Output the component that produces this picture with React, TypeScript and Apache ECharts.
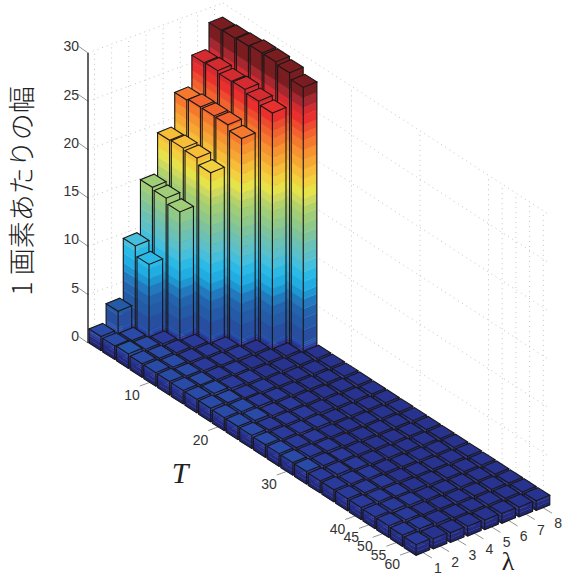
import React, { useEffect, useRef } from "react";
import * as echarts from "echarts";

const zTicks = [0, 5, 10, 15, 20, 25, 30];
const tTickLabels = ["10", "20", "30", "40", "45", "50", "55", "60"];
const tTickRows = [5, 10, 15, 20, 21, 22, 23, 24];
const lambdaTicks = [1, 2, 3, 4, 5, 6, 7, 8];

// rows = T index (1..24), columns = lambda (1..8)
const heights: number[][] = [
  [1.45, 3.4, 9.5, 14.9, 19.1, 22.6, 25.8, 28.5],
  [1.4, 1.3, 8.5, 14.7, 19.2, 22.8, 25.9, 28.6],
  [1.5, 1.3, 1.2, 14.2, 19.1, 22.8, 25.7, 28.7],
  [1.4, 1.3, 1.2, 1.1, 18.5, 22.8, 25.8, 28.9],
  [1.4, 1.3, 1.2, 1.1, 1.1, 22.3, 25.5, 28.9],
  [1.4, 1.3, 1.2, 1.1, 1.1, 1.05, 25.2, 28.7],
  [1.4, 1.3, 1.2, 1.1, 1.05, 1.05, 1.0, 28.1],
  [1.4, 1.35, 1.2, 1.1, 1.05, 1.05, 1.0, 1.0],
  [1.4, 1.3, 1.15, 1.1, 1.05, 1.0, 1.0, 1.0],
  [1.35, 1.3, 1.2, 1.1, 1.05, 1.0, 1.0, 1.0],
  [1.35, 1.3, 1.15, 1.1, 1.05, 1.0, 1.0, 1.0],
  [1.35, 1.25, 1.15, 1.1, 1.05, 1.0, 1.0, 1.0],
  [1.3, 1.25, 1.15, 1.1, 1.0, 1.0, 1.0, 1.0],
  [1.3, 1.25, 1.15, 1.05, 1.0, 1.0, 1.0, 1.0],
  [1.3, 1.25, 1.15, 1.05, 1.0, 1.0, 1.0, 1.0],
  [1.3, 1.25, 1.1, 1.05, 1.0, 1.0, 1.0, 1.0],
  [1.25, 1.25, 1.1, 1.05, 1.0, 1.0, 1.0, 1.0],
  [1.25, 1.2, 1.1, 1.05, 1.0, 1.0, 1.0, 1.0],
  [1.25, 1.2, 1.1, 1.05, 1.0, 1.0, 1.0, 1.0],
  [1.25, 1.2, 1.1, 1.05, 1.0, 1.0, 1.0, 1.0],
  [1.2, 1.2, 1.1, 1.0, 1.0, 1.0, 1.0, 1.0],
  [1.2, 1.15, 1.05, 1.0, 1.0, 1.0, 1.0, 1.0],
  [1.15, 1.15, 1.05, 1.0, 1.0, 1.0, 1.0, 1.0],
  [1.1, 1.05, 1.0, 1.0, 1.0, 1.0, 1.0, 1.0],
];

// colour bands: upper z limit and colour
const bandTops = [0.4, 0.8, 1.05, 1.25, 1.45, 1.7, 3, 4.2, 5.2, 6.2, 7, 8, 9, 10, 11, 12, 13, 14, 15, 15.8, 16.6, 17.6, 18.6, 19.6, 20.6, 21.6, 22.6, 23.4, 24.2, 25.2, 26, 27, 31];
const bandColors = ["#1f2670", "#242b80", "#27338f", "#2a3a9a", "#2a4aa8", "#2556ab", "#284f9f", "#245aa6", "#2464af", "#2379bd", "#1e96d2", "#22ade2", "#2bb9e6", "#45bfdb", "#5cc0c9", "#6bc1b3", "#7cc39e", "#8fc98a", "#a0cd78", "#b4d26a", "#cdd95f", "#e6e34a", "#f2d13f", "#f5bd38", "#f6a733", "#f6922f", "#f4792e", "#f2622e", "#ee4a2e", "#e9302e", "#d42b30", "#a5272f", "#7a1d20"];

const barData: number[][] = [];
heights.forEach((line, i) => {
  for (let j = line.length - 1; j >= 0; j--) barData.push([i + 1, j + 1, line[j]]);
});

const proj = {
  ox: 89, oy: 343, rx: 13.7, ry: 8.9, cx: 17.15, cy: -6.4, zs: 9.67,
  ux: 13.6, uy: -5.6, vx: 12, vy: 7.6,
};
const base = (r: number, c: number) => [
  proj.ox + proj.rx * (r - 1) + proj.cx * (c - 1),
  proj.oy + proj.ry * (r - 1) + proj.cy * (c - 1),
];
const wall = { ax: 88, ay: 343, bx: 223, by: 293, cx: 548, cy: 504 };

const renderBar = (_: any, api: any) => {
  const r = api.value(0), c = api.value(1), h = api.value(2);
  const [lx, ly] = base(r, c);
  const P = (du: number, dv: number, z: number) =>
    api.coord([lx + du * proj.ux + dv * proj.vx, ly + du * proj.uy + dv * proj.vy - z * proj.zs]);
  const children: any[] = [];
  let prev = 0;
  for (let k = 0; k < bandTops.length && prev < h; k++) {
    const top = Math.min(bandTops[k], h);
    const fill = bandColors[k];
    const strip = (a: number[], b: number[]) => ({
      type: "polygon",
      shape: { points: [P(a[0], a[1], prev), P(b[0], b[1], prev), P(b[0], b[1], top), P(a[0], a[1], top)] },
      style: { fill, stroke: fill, lineWidth: 0.4 },
    });
    children.push(strip([0, 0], [0, 1]));
    children.push(strip([0, 1], [1, 1]));
    prev = top;
  }
  let idx = bandTops.findIndex((t) => h <= t);
  if (idx < 0) idx = bandColors.length - 1;
  children.push({
    type: "polygon",
    shape: { points: [P(0, 0, h), P(0, 1, h), P(1, 1, h), P(1, 0, h)] },
    style: { fill: bandColors[idx], stroke: "#1a1718", lineWidth: 1.1 },
  });
  const edge = (pts: number[][]) => ({
    type: "polyline",
    shape: { points: pts },
    style: { fill: "none", stroke: "#1a1718", lineWidth: 1.1 },
  });
  children.push(edge([P(0, 0, h), P(0, 0, 0), P(0, 1, 0), P(1, 1, 0), P(1, 1, h)]));
  children.push(edge([P(0, 1, 0), P(0, 1, h)]));
  return { type: "group", children };
};

const segLine = (a: number[], b: number[], style: any, api: any) => ({
  type: "line",
  shape: { x1: api.coord(a)[0], y1: api.coord(a)[1], x2: api.coord(b)[0], y2: api.coord(b)[1] },
  style,
});

const dotted = { stroke: "#c4c4c4", lineWidth: 1, lineDash: [1, 4] };
const tickStyle = { stroke: "#777", lineWidth: 0.8 };

const renderGrid = (_: any, api: any) => {
  const children: any[] = [];
  zTicks.forEach((z) => {
    const d = -z * proj.zs;
    children.push(segLine([wall.ax, wall.ay + d], [wall.bx, wall.by + d], dotted, api));
    children.push(segLine([wall.bx, wall.by + d], [wall.cx, wall.cy + d], dotted, api));
  });
  const top = -30 * proj.zs;
  lambdaTicks.forEach((c) => {
    const x = wall.ax + 6.5 + proj.cx * (c - 1);
    const y = wall.ay - 3.2 + proj.cy * (c - 1);
    children.push(segLine([x, y], [x, y + top], dotted, api));
  });
  tTickRows.forEach((r) => {
    const x = wall.bx + 60 + proj.rx * (r - 5);
    const y = wall.by + (x - wall.bx) * 0.649;
    children.push(segLine([x, y], [x, y + top], dotted, api));
  });
  return { type: "group", children };
};

const renderAxes = (_: any, api: any) => {
  const children: any[] = [];
  zTicks.forEach((z) => {
    const y = wall.ay - z * proj.zs;
    children.push(segLine([wall.ax, y], [wall.ax - 10, y - 7], tickStyle, api));
  });
  children.push(segLine([wall.ax, wall.ay], [wall.ax, wall.ay - 30 * proj.zs], { stroke: "#231f20", lineWidth: 1.4 }, api));
  tTickRows.forEach((r) => {
    const [x, y] = base(r, 1);
    const p = [x + proj.vx / 2, y + proj.vy / 2];
    children.push(segLine(p, [p[0] - 10, p[1] + 3.6], tickStyle, api));
  });
  lambdaTicks.forEach((c) => {
    const [x, y] = base(24, c);
    const p = [x + proj.vx + proj.ux / 2, y + proj.vy + proj.uy / 2];
    children.push(segLine(p, [p[0] + 9, p[1] + 5.5], tickStyle, api));
  });
  return { type: "group", children };
};

const tickFont = { fontFamily: "Liberation Sans", fontSize: 14, fill: "#333" };
const label = (text: string, x: number, y: number, align = "center") => ({
  type: "text",
  x,
  y,
  silent: true,
  style: { ...tickFont, text, textAlign: align, textVerticalAlign: "middle" },
});

export default function App() {
  const ref = useRef<HTMLDivElement>(null);
  useEffect(() => {
    const chart = echarts.init(ref.current!, undefined, { renderer: "svg" });
    const hidden = { show: false };
    chart.setOption({
      animation: false,
      backgroundColor: "#fff",
      grid: { left: 0, top: 0, width: 563, height: 576 },
      xAxis: { type: "value", min: 0, max: 563, ...hidden },
      yAxis: { type: "value", min: 0, max: 576, inverse: true, ...hidden },
      series: [
        { type: "custom", coordinateSystem: "cartesian2d", renderItem: renderGrid, data: [[0, 0]], clip: false, silent: true, z: 1 },
        { type: "custom", coordinateSystem: "cartesian2d", renderItem: renderAxes, data: [[0, 0]], clip: false, silent: true, z: 2 },
        { type: "custom", coordinateSystem: "cartesian2d", renderItem: renderBar, data: barData, clip: false, silent: true, z: 3, encode: { x: 0, y: 1 } },
      ],
      graphic: [
        ...zTicks.map((z, i) => label(String(z), 79, 336 - i * 48.3, "right")),
        ...tTickLabels.map((t, i) => label(t, 132 + proj.rx * (tTickRows[i] - 5), 395 + proj.ry * (tTickRows[i] - 5))),
        ...lambdaTicks.map((c) => label(String(c), 438 + proj.cx * (c - 1), 568 + proj.cy * (c - 1))),
        { type: "text", x: 180, y: 472, silent: true, style: { text: "T", fontFamily: "Liberation Serif", fontStyle: "italic", fontSize: 30, fill: "#222", textAlign: "center", textVerticalAlign: "middle" } },
        { type: "text", x: 508, y: 561, silent: true, style: { text: "λ", fontFamily: "Liberation Serif", fontSize: 26, fill: "#222", textAlign: "center", textVerticalAlign: "middle" } },
        { type: "text", x: 20, y: 191, rotation: Math.PI / 2, silent: true, style: { text: "1 画素あたりの幅", fontFamily: "Noto Sans CJK JP", fontWeight: 300, fontSize: 27, fill: "#222", textAlign: "center", textVerticalAlign: "middle" } },
      ],
    });
    return () => chart.dispose();
  }, []);
  return <div ref={ref} style={{ position: "fixed", left: 0, top: 0, width: 563, height: 576 }} />;
}
